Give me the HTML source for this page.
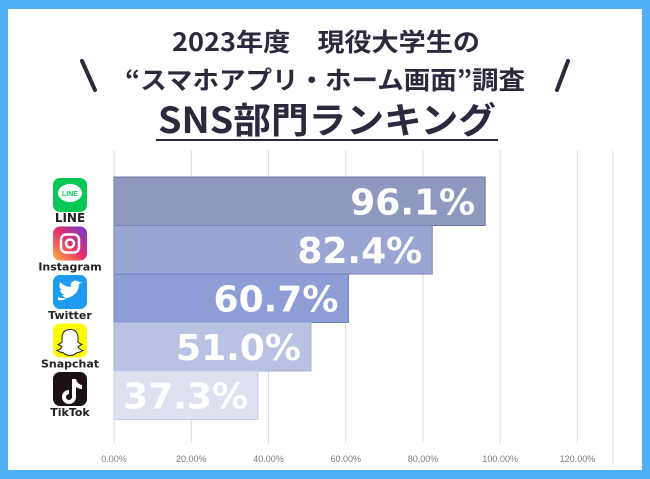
<!DOCTYPE html>
<html><head><meta charset="utf-8">
<style>
html,body{margin:0;padding:0;}
body{width:650px;height:479px;background:#4fb0f5;position:relative;overflow:hidden;font-family:"Liberation Sans","Noto Sans CJK JP",sans-serif;}
#panel{position:absolute;left:8px;top:9px;width:634px;height:461px;background:#fff;}
</style></head><body>
<div id="panel"></div>
<svg id="chart" width="650" height="479" style="position:absolute;left:0;top:0">
  <g font-family="'Noto Sans CJK JP',sans-serif" fill="#2b2a3d" font-weight="bold" text-anchor="middle">
    <text x="326" y="51" font-size="25" textLength="308" lengthAdjust="spacingAndGlyphs">2023年度　現役大学生の</text>
    <text x="325" y="89" font-size="25" textLength="400" lengthAdjust="spacingAndGlyphs">“スマホアプリ・ホーム画面”調査</text>
    <text x="327" y="133" font-size="36" textLength="338" lengthAdjust="spacingAndGlyphs">SNS部門ランキング</text>
  </g>
  <line x1="82" y1="61" x2="95" y2="90" stroke="#2b2a3d" stroke-width="4" stroke-linecap="round"/>
  <line x1="568" y1="61" x2="557" y2="90" stroke="#2b2a3d" stroke-width="4" stroke-linecap="round"/>
  <line x1="156" y1="140" x2="498" y2="140" stroke="#2b2a3d" stroke-width="2"/>
  <line x1="613" y1="150" x2="613" y2="465" stroke="#e2e2e2" stroke-width="1"/>
  <g id="grid"></g><g id="bars"></g><g id="ticks"></g><g id="icons"></g>
</svg>
<script>
const categories=["LINE","Instagram","Twitter","Snapchat","TikTok"];
const values=[96.1,82.4,60.7,51.0,37.3];
const valueLabels=["96.1%","82.4%","60.7%","51.0%","37.3%"];
const tickValues=[0,20,40,60,80,100,120];
const tickLabels=["0.00%","20.00%","40.00%","60.00%","80.00%","100.00%","120.00%"];
const NS="http://www.w3.org/2000/svg";
const x0=114,pxPer=3.862;
const xs=v=>x0+v*pxPer;
const bandTop=177,band=48.5;
const ys=i=>bandTop+i*band;
const barColors=["#8f99bf","#9aa5d4","#8e9dd6","#bac2e4","#dde1f0"];
const barStroke=["#6d78a3","#7882b4","#6e7fbf","#a4add6","#c8cde6"];
function el(t,a,p){const e=document.createElementNS(NS,t);for(const k in a)e.setAttribute(k,a[k]);p.appendChild(e);return e;}
const grid=document.getElementById('grid'),bars=document.getElementById('bars'),ticks=document.getElementById('ticks'),icons=document.getElementById('icons');
tickValues.forEach((v,i)=>{
  const l=el('line',{x1:xs(v),x2:xs(v),y1:150,y2:443,stroke:'#dcdcdc','stroke-width':1},grid);
  
  
  const t=el('text',{x:xs(v),y:462,'font-size':9,fill:'#7a7a7a','text-anchor':'middle','font-family':'Liberation Sans,sans-serif'},ticks);
  t.textContent=tickLabels[i];
  
  
});
values.forEach((v,i)=>{
  const r=el('rect',{x:x0,y:ys(i),width:xs(v)-x0,height:band,fill:barColors[i],stroke:barStroke[i],'stroke-width':1},bars);
  
  
  const t=el('text',{x:xs(v)-10,y:ys(i)+band/2+13,'font-size':36,'font-weight':'bold',fill:'#fff','text-anchor':'end','font-family':'DejaVu Sans,Liberation Sans,sans-serif'},bars);
  t.textContent=valueLabels[i];
  
  
  const cx=70,iy=ys(i)+1;
  const iconFill=["#06c755","url(#ig)","#1d9bf0","#fffc00","#1a1016"][i];
  const ic=el('rect',{x:cx-17,y:iy,width:34,height:34,rx:7,fill:iconFill},icons);
  
  
  const lb=el('text',{x:cx,y:ys(i)+45,'font-size':i===0?12:11,'font-weight':'bold',fill:'#222','text-anchor':'middle','font-family':'DejaVu Sans,Liberation Sans,sans-serif'},icons);
  lb.textContent=categories[i];
  
  
});
const defs=el('defs',{},document.getElementById('chart'));
const g=el('linearGradient',{id:'ig',x1:0,y1:1,x2:1,y2:0},defs);
el('stop',{offset:0,'stop-color':'#fdb13a'},g);el('stop',{offset:0.5,'stop-color':'#e3306c'},g);el('stop',{offset:1,'stop-color':'#6a3bd0'},g);
const y0=ys(0)+1;
el('ellipse',{cx:70,cy:y0+15,rx:12,ry:9,fill:'#fff'},icons);
const lt=el('text',{x:70,y:y0+18,'font-size':7,'font-weight':'bold',fill:'#06c755','text-anchor':'middle'},icons);lt.textContent="LINE";
const y1=ys(1)+1;
el('rect',{x:61,y:y1+8,width:18,height:18,rx:5,fill:'none',stroke:'#fff','stroke-width':2.5},icons);
el('circle',{cx:70,cy:y1+17,r:4,fill:'none',stroke:'#fff','stroke-width':2.5},icons);
const y2=ys(2)+1;
el('path',{d:`M58 ${y2+22} q10 4 18 -4 q3 -4 3 -9 l3 -2 l-3 0 q-3 -3 -7 0 q-2 2 -1 5 q-6 0 -11 -5 q-2 5 2 8 l-2 0 q1 4 5 5 l-3 0 q2 3 5 3 q-4 3 -9 2z`,fill:'#fff'},icons);
const y3=ys(3)+1;
el('path',{d:`M70 ${y3+6} q-8 0 -8 9 l0 4 l-4 2 l4 2 q-1 3 -5 4 q3 2 6 2 q3 3 7 3 q4 0 7 -3 q3 0 6 -2 q-4 -1 -5 -4 l4 -2 l-4 -2 l0 -4 q0 -9 -8 -9z`,fill:'#fff',stroke:'#222','stroke-width':1},icons);
const y4=ys(4)+1;
el('path',{d:`M72 ${y4+7} l4 0 q1 5 6 6 l0 4 q-3 0 -6 -2 l0 10 a7 7 0 1 1 -7 -7 l0 4 a3 3 0 1 0 3 3z`,fill:'#fff'},icons);
</script>
</body></html>
